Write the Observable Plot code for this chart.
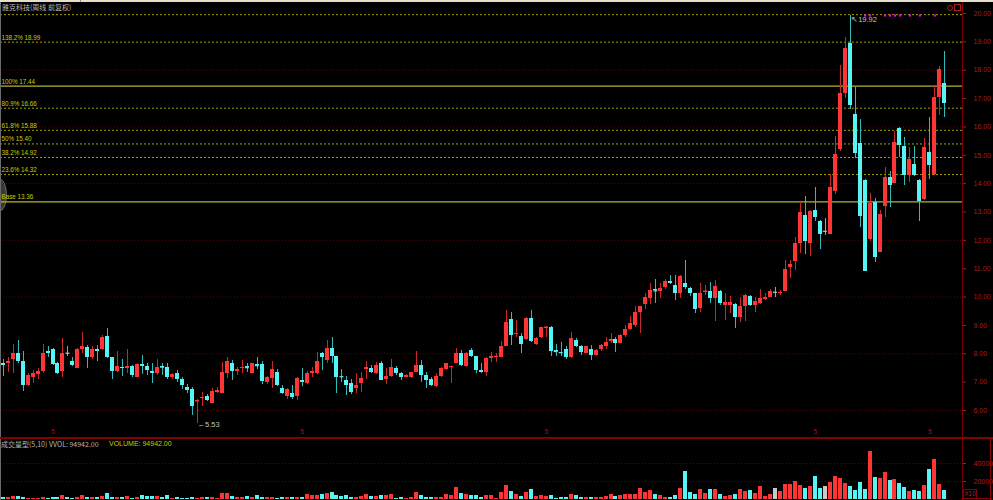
<!DOCTYPE html>
<html><head><meta charset="utf-8">
<script src="https://cdn.jsdelivr.net/npm/d3@7"></script>
<script src="https://cdn.jsdelivr.net/npm/@observablehq/plot@0.6"></script>
<style>
body{margin:0;background:#000;}
#wrap{position:relative;width:993px;height:500px;background:#000;overflow:hidden;font-family:"Liberation Sans",Arial,sans-serif;}
.abs{position:absolute;}
#main{position:absolute;left:0;top:0;}
#vol{position:absolute;left:0;top:438px;}
.cjk{font-family:"Noto Sans CJK SC","Liberation Sans",sans-serif;}
</style></head><body>
<div id="wrap">
  <div class="abs" style="left:-7px;top:179px;width:12px;height:30px;border-radius:50%;background:#383838;border:1px solid #686868"></div>
  <div id="main"></div>
  <div id="vol"></div>
  <div class="abs" style="left:0;top:0;width:993px;height:2px;background:#e6dfcf"></div>
  <div class="abs" style="left:80px;top:0;width:1px;height:2px;background:#8a8a8a"></div>
  <div class="abs" style="left:0;top:2px;width:1px;height:498px;background:#6a6a6a"></div>
  <div class="abs" style="left:962px;top:2px;width:1px;height:498px;background:#7c0000"></div>
  <div class="abs" style="left:0;top:437px;width:993px;height:1.5px;background:#860000"></div>
  <div class="abs" style="left:990px;top:438px;width:1px;height:62px;background:#860000"></div>
  <div class="abs" style="left:962px;top:498px;width:29px;height:1px;background:#860000"></div>
  <div class="abs" style="left:963px;top:489px;width:12px;height:8px;border:1px solid #8a0000;color:#a82020;font-size:6.5px;line-height:8px;text-align:center">X10</div>
  <div class="abs" style="left:947px;top:5px;width:4px;height:4px;border:1px solid #a02020;border-radius:50%"></div>
  <div class="abs" style="left:954px;top:4px;width:5px;height:5px;border:1px solid #a02020"></div>
  <div class="abs cjk" id="title" style="left:2px;top:2px;font-size:7px;line-height:10px;color:#b8b8b8;white-space:nowrap"></div>
  <div class="abs cjk" id="vtitle1" style="left:1px;top:439px;font-size:7px;line-height:10px;color:#b4b4b4;white-space:nowrap"></div>
  <div class="abs" id="vtitle2" style="left:109px;top:439px;font-size:7px;line-height:10px;color:#c8c800;white-space:nowrap"></div>
</div>
<script>
const titleText = "雅克科技(周线 前复权)";
const volTitle1 = "成交量型(5,10) VVOL: 94942.00";
const volTitle2 = "VOLUME: 94942.00";

const open = [7.67,7.65,7.81,8.02,7.74,6.88,7.18,7.27,7.39,8.09, 8.14,7.65,7.39,8.02,7.74,7.47,8.14,8.21,7.88,8.14, 8.14,8.61,7.86,7.39,7.53,7.47,7.55,7.18,7.61,7.55, 7.36,7.32,7.56,7.51,7.15,7.32,7.08,6.80,6.73,6.30, 6.41,6.49,6.26,6.65,6.61,7.32,7.67,7.39,7.47,7.56, 7.32,7.62,7.62,6.99,7.12,7.35,6.76,6.49,6.61,6.49, 7.06,6.94,7.29,7.32,8.02,7.76,8.18,7.91,7.21,7.06, 6.94,6.76,6.94,7.44,7.47,7.29,7.65,7.08,7.20,7.49, 7.32,7.18,7.18,7.35,7.59,7.24,7.08,6.85,7.20,7.44, 7.51,7.67,8.02,7.55,8.12,7.91,7.41,7.35,7.82,7.86, 7.88,8.26,9.20,8.68,8.61,8.49,9.24,8.33,8.56,8.90, 8.94,8.10,8.06,8.16,7.86,8.47,8.26,8.02,8.16,7.94, 8.14,8.27,8.45,8.49,8.38,8.65,8.85,8.98,9.44,9.74, 9.94,10.25,10.21,10.35,10.56,10.41,10.12,10.49,10.29,10.12, 9.59,10.17,10.21,9.94,10.21,9.70,9.70,9.74,9.29,9.65, 10.02,9.71,9.76,9.91,10.00,10.17,10.12,10.21,11.03,11.27, 11.90,12.88,11.90,13.05,12.68,12.32,12.21,13.73,15.19,17.19, 18.93,16.44,15.43,14.11,12.02,13.35,11.58,13.19,14.23,14.02, 15.93,15.31,14.29,14.68,14.11,13.43,15.11,14.32,17.03,17.52];
const high = [7.79,7.88,8.33,8.47,8.09,7.29,7.41,7.47,8.33,8.24, 8.18,7.71,8.53,8.26,7.88,8.18,8.76,8.29,8.24,8.29, 8.65,8.88,7.86,8.09,7.79,8.14,7.59,7.65,7.94,7.65, 7.67,7.79,7.65,7.65,7.29,7.41,7.18,6.92,6.82,6.38, 6.65,6.57,6.76,6.82,7.71,7.88,7.77,7.53,7.77,7.67, 7.67,7.86,7.74,7.20,7.74,7.44,6.88,6.76,6.88,7.15, 7.47,7.39,7.53,8.06,8.06,8.47,8.59,7.91,7.44,7.20, 7.08,7.29,7.35,7.74,7.59,7.71,7.74,7.47,7.79,7.55, 7.35,7.27,7.35,8.09,7.77,7.35,7.15,7.29,7.51,7.67, 7.55,8.18,8.12,8.06,8.18,7.91,7.65,7.86,8.06,8.00, 8.45,9.53,9.44,9.18,8.73,9.27,9.53,8.56,8.94,8.96, 8.96,8.33,8.41,8.24,8.76,8.53,8.29,8.26,8.29,8.14, 8.33,8.56,8.73,8.56,8.68,9.00,9.32,9.67,9.67,10.12, 10.49,10.61,10.49,10.61,10.76,10.76,10.76,11.29,10.33,10.14, 10.47,10.41,10.53,10.59,10.24,10.12,10.02,9.76,10.00,10.09, 10.06,10.00,10.26,10.14,10.26,10.35,10.23,11.29,11.29,12.11, 13.35,13.55,13.05,13.85,12.70,12.76,14.32,15.66,18.17,19.17, 19.92,17.40,16.25,14.14,13.66,13.46,13.05,14.58,14.44,15.85, 15.99,15.62,15.29,15.31,14.14,15.58,16.32,17.46,18.13,18.67];
const low = [7.20,7.35,7.32,7.65,6.68,6.85,6.94,7.08,7.32,7.86, 7.58,7.27,7.18,7.91,7.55,7.47,8.00,7.47,7.79,7.74, 8.12,7.82,7.08,7.35,7.20,7.29,7.18,7.18,7.27,7.24, 6.94,7.24,7.24,7.10,7.08,7.00,6.73,6.59,5.82,5.53, 6.14,6.33,6.24,6.59,6.59,7.12,7.06,7.24,7.29,7.35, 7.29,7.44,6.92,6.92,6.76,6.85,6.56,6.38,6.38,6.35, 6.85,6.92,7.18,7.27,7.41,7.65,7.65,6.61,7.00,6.53, 6.56,6.59,6.65,7.08,7.29,7.27,7.06,6.92,7.15,7.24, 7.06,7.15,7.12,7.35,7.00,6.76,6.85,6.82,7.15,7.41, 6.96,7.65,7.55,7.53,7.88,7.32,7.32,7.20,7.71,7.71, 7.86,8.24,8.29,8.56,8.02,8.47,8.41,8.29,8.53,8.56, 7.91,7.91,7.91,7.79,7.82,8.21,7.94,8.00,7.76,7.91, 8.09,8.14,8.38,8.06,8.35,8.56,8.82,8.94,8.71,9.55, 9.74,9.79,9.94,10.26,10.45,9.88,9.94,10.26,10.02,9.41, 9.47,10.06,9.79,9.15,9.70,9.18,9.41,8.88,9.12,9.15, 9.67,9.47,9.74,9.88,9.98,9.97,10.06,10.21,10.64,10.94, 11.55,11.50,11.43,12.68,11.67,12.17,12.21,13.62,15.15,17.00, 16.60,14.90,12.47,10.90,11.95,11.23,11.58,12.82,13.15,13.99, 14.93,13.93,14.05,14.25,12.68,13.41,14.13,14.30,16.40,16.34];
const close = [7.58,7.74,8.02,7.74,6.88,7.24,7.29,7.39,8.00,8.02, 7.62,7.29,8.02,8.02,7.59,8.14,8.26,7.88,8.14,8.08, 8.56,7.86,7.39,7.55,7.47,7.55,7.24,7.62,7.59,7.41, 7.34,7.53,7.53,7.15,7.27,7.08,6.88,6.71,6.14,6.34, 6.47,6.35,6.68,6.71,7.35,7.74,7.39,7.44,7.53,7.51, 7.65,7.58,7.04,7.15,7.44,6.88,6.59,6.73,6.47,7.12, 7.00,7.32,7.38,7.74,7.88,8.18,7.91,7.18,7.19,6.88, 6.65,6.88,7.12,7.51,7.35,7.59,7.06,7.20,7.51,7.29, 7.18,7.24,7.35,7.59,7.24,7.06,6.88,7.20,7.47,7.65, 7.55,8.02,7.59,8.02,7.91,7.41,7.35,7.82,7.91,7.91, 8.24,9.12,8.65,8.73,8.33,9.24,8.45,8.53,8.92,8.94, 8.09,8.08,8.04,7.86,8.53,8.26,8.04,8.24,7.94,8.12, 8.29,8.39,8.49,8.38,8.65,8.85,9.08,9.44,9.65,9.98, 10.24,10.22,10.29,10.55,10.47,10.14,10.73,10.33,10.12,9.55, 10.14,10.21,9.94,10.38,9.76,9.82,9.82,9.29,9.67,10.06, 9.71,9.86,9.94,10.00,10.21,10.17,10.17,10.96,11.15,11.90, 12.99,11.97,13.03,12.82,12.21,12.32,13.85,15.03,17.19,18.75, 16.75,15.05,12.84,10.91,13.31,11.41,12.91,14.23,13.94,15.46, 15.35,14.29,14.84,14.29,13.38,15.26,14.64,17.05,18.01,16.81];
const volume = [2600,1850,3300,3300,2200,700,1500,1500,2200,1500, 2200,2200,4100,2200,1500,2200,4800,2600,2200,2600, 3300,6300,2600,2200,2200,3300,1500,2200,4100,3000, 3000,3300,2200,4100,1500,2200,1500,1500,2200,1500, 2200,2200,2200,1500,7000,7000,3300,2200,2200,3300, 2200,4800,2200,2200,2200,1500,2200,2200,2200,2200, 2200,5900,4800,4100,5900,7000,
 8140,4800,3300,4800,2600,2600,3300,5900,3300,3300, 4800,4100,5900,1500,2600,700,2200,8100,4100,2200, 1850,2200,2600,5900,4800,13300,7000,5900,4100,4100, 2600,4800,4800,1500,8100,15900,8900,5900,3300,8100, 11500,3300,4100,3300,4800,1500,2200,2200,5900,4100, 2200,2600,2600,2200,2600,3300,5900,3300,4800,5900, 5900,5900,12600,8100,10000,5500,4800,2200,2600,4800, 12200,30700,7400,5900,10700,6700,11500,10700,5900,3300, 4800,5900,11500,8900,10000,6700,14100,3300,5900,12200, 9250,16700,16700,20350,15200,12200,14100,25500,12600,14800, 18500,25200,23700,18100,14800,10000,19200,10700,52900,24400, 23700,29600,21100,22200,18100,13300,9250,10000,8900,15200, 33300,44400,17000,10000];

const fibNames = ["161.8%","138.2%","100%","80.9%","61.8%","50%","38.2%","23.6%","Base"];
const fibValues = [19.96,18.99,17.44,16.66,15.88,15.40,14.92,14.32,13.36];
const fibSolidNames = ["100%","Base"];
const fibHiddenLabel = ["161.8%"];
const priceTicks = [6,7,8,9,10,11,12,13,14,15,16,17,18,19,20];
const gridPrices = [6,8,10,12,14,16,18];
const volTicks = [20000,40000];
const monthTickIdx = [10,60,109,163,186];
const monthTickText = ["5","5","5","5","5"];
const signalIdx = [173,174,177,178,179,180,182,184,187];
const highMark = {i:170, v:19.92};
const lowMark = {i:39, v:5.53};

document.getElementById("title").textContent = titleText;
document.getElementById("vtitle1").textContent = volTitle1;
document.getElementById("vtitle2").textContent = volTitle2;

const N = close.length;
const rows = d3.range(N).map(i => ({i, o:open[i], h:high[i], l:low[i], c:close[i], v:volume[i]}));
const dir = d => d.c > d.o ? 1 : (d.c < d.o ? -1 : 0);
const bodyFill = d => dir(d) > 0 ? "#ff3434" : dir(d) < 0 ? "#55f5f5" : "#c8c8c8";
const wickColor = d => dir(d) > 0 ? "#c82828" : dir(d) < 0 ? "#34b8b8" : "#a0a0a0";
const fib = fibNames.map((n, k) => ({label:n, v:fibValues[k]}));
const months = monthTickIdx.map((i, k) => ({i, t:monthTickText[k]}));
const signals = signalIdx.map(i => ({i}));

const xScale = {type:"band", domain:d3.range(N), range:[-0.3, 947.3], padding:0.2, round:false, axis:null};
const font = "Liberation Sans, Arial, sans-serif";

const main = Plot.plot({
  width:993, height:438, marginTop:13, marginBottom:28, marginLeft:0, marginRight:31,
  style:{background:"transparent", color:"#a81e1e", fontSize:"7px", fontFamily:font},
  x: xScale,
  y: {domain:[6,20], axis:"right", ticks:priceTicks, tickFormat:d => d.toFixed(2), tickSize:3, tickPadding:8, label:null},
  marks: [
    Plot.ruleY(gridPrices, {stroke:"#640000", strokeDasharray:"1,2"}),
    Plot.ruleY(fib.filter(d => !fibSolidNames.includes(d.label)), {y:"v", stroke:"#a0a000", strokeDasharray:"2,2"}),
    Plot.ruleY(fib.filter(d => fibSolidNames.includes(d.label)), {y:"v", stroke:"#b4b432", strokeWidth:1.2}),
    Plot.text(fib.filter(d => !fibHiddenLabel.includes(d.label)), {frameAnchor:"left", y:"v", text:d => `${d.label} ${d.v.toFixed(2)}`, textAnchor:"start", dx:1, dy:-4.5, fill:"#cccc00", fontSize:6.3}),
    Plot.ruleX(rows, {x:"i", y1:"l", y2:"h", stroke:wickColor, strokeWidth:1, shapeRendering:"crispEdges"}),
    Plot.barY(rows, {x:"i", y1:"o", y2:"c", fill:bodyFill, shapeRendering:"crispEdges"}),
    Plot.tickY(rows.filter(d => Math.abs(d.c - d.o) < 0.05), {x:"i", y:"c", stroke:bodyFill, strokeWidth:1.2}),
    Plot.dot(signals, {x:"i", frameAnchor:"top", dy:2, symbol:"square", r:1.2, fill:"#ff00ff", stroke:"none"}),
    Plot.text([highMark], {x:"i", y:"v", text:d => "↖" + d.v.toFixed(2), textAnchor:"start", dx:1, dy:4, fill:"#c0c0c0", fontSize:7.5}),
    Plot.text([lowMark], {x:"i", y:"v", text:d => "←" + d.v.toFixed(2), textAnchor:"start", dx:0, dy:1, fill:"#c0c0c0", fontSize:7.5}),
    Plot.text(months, {x:"i", frameAnchor:"bottom", dy:23, text:"t", fill:"#c80000", fontSize:6.5})
  ]
});
document.getElementById("main").appendChild(main);

const vol = Plot.plot({
  width:993, height:62, marginTop:7, marginBottom:1, marginLeft:0, marginRight:31,
  style:{background:"transparent", color:"#a81e1e", fontSize:"7px", fontFamily:font},
  x: xScale,
  y: {domain:[0,60000], axis:"right", ticks:volTicks, tickFormat:"d", tickSize:3, tickPadding:8, label:null},
  marks: [
    Plot.ruleY(volTicks, {stroke:"#640000", strokeDasharray:"1,2"}),
    Plot.barY(rows, {x:"i", y:"v", fill:bodyFill, shapeRendering:"crispEdges"})
  ]
});
document.getElementById("vol").appendChild(vol);
</script>
</body></html>
